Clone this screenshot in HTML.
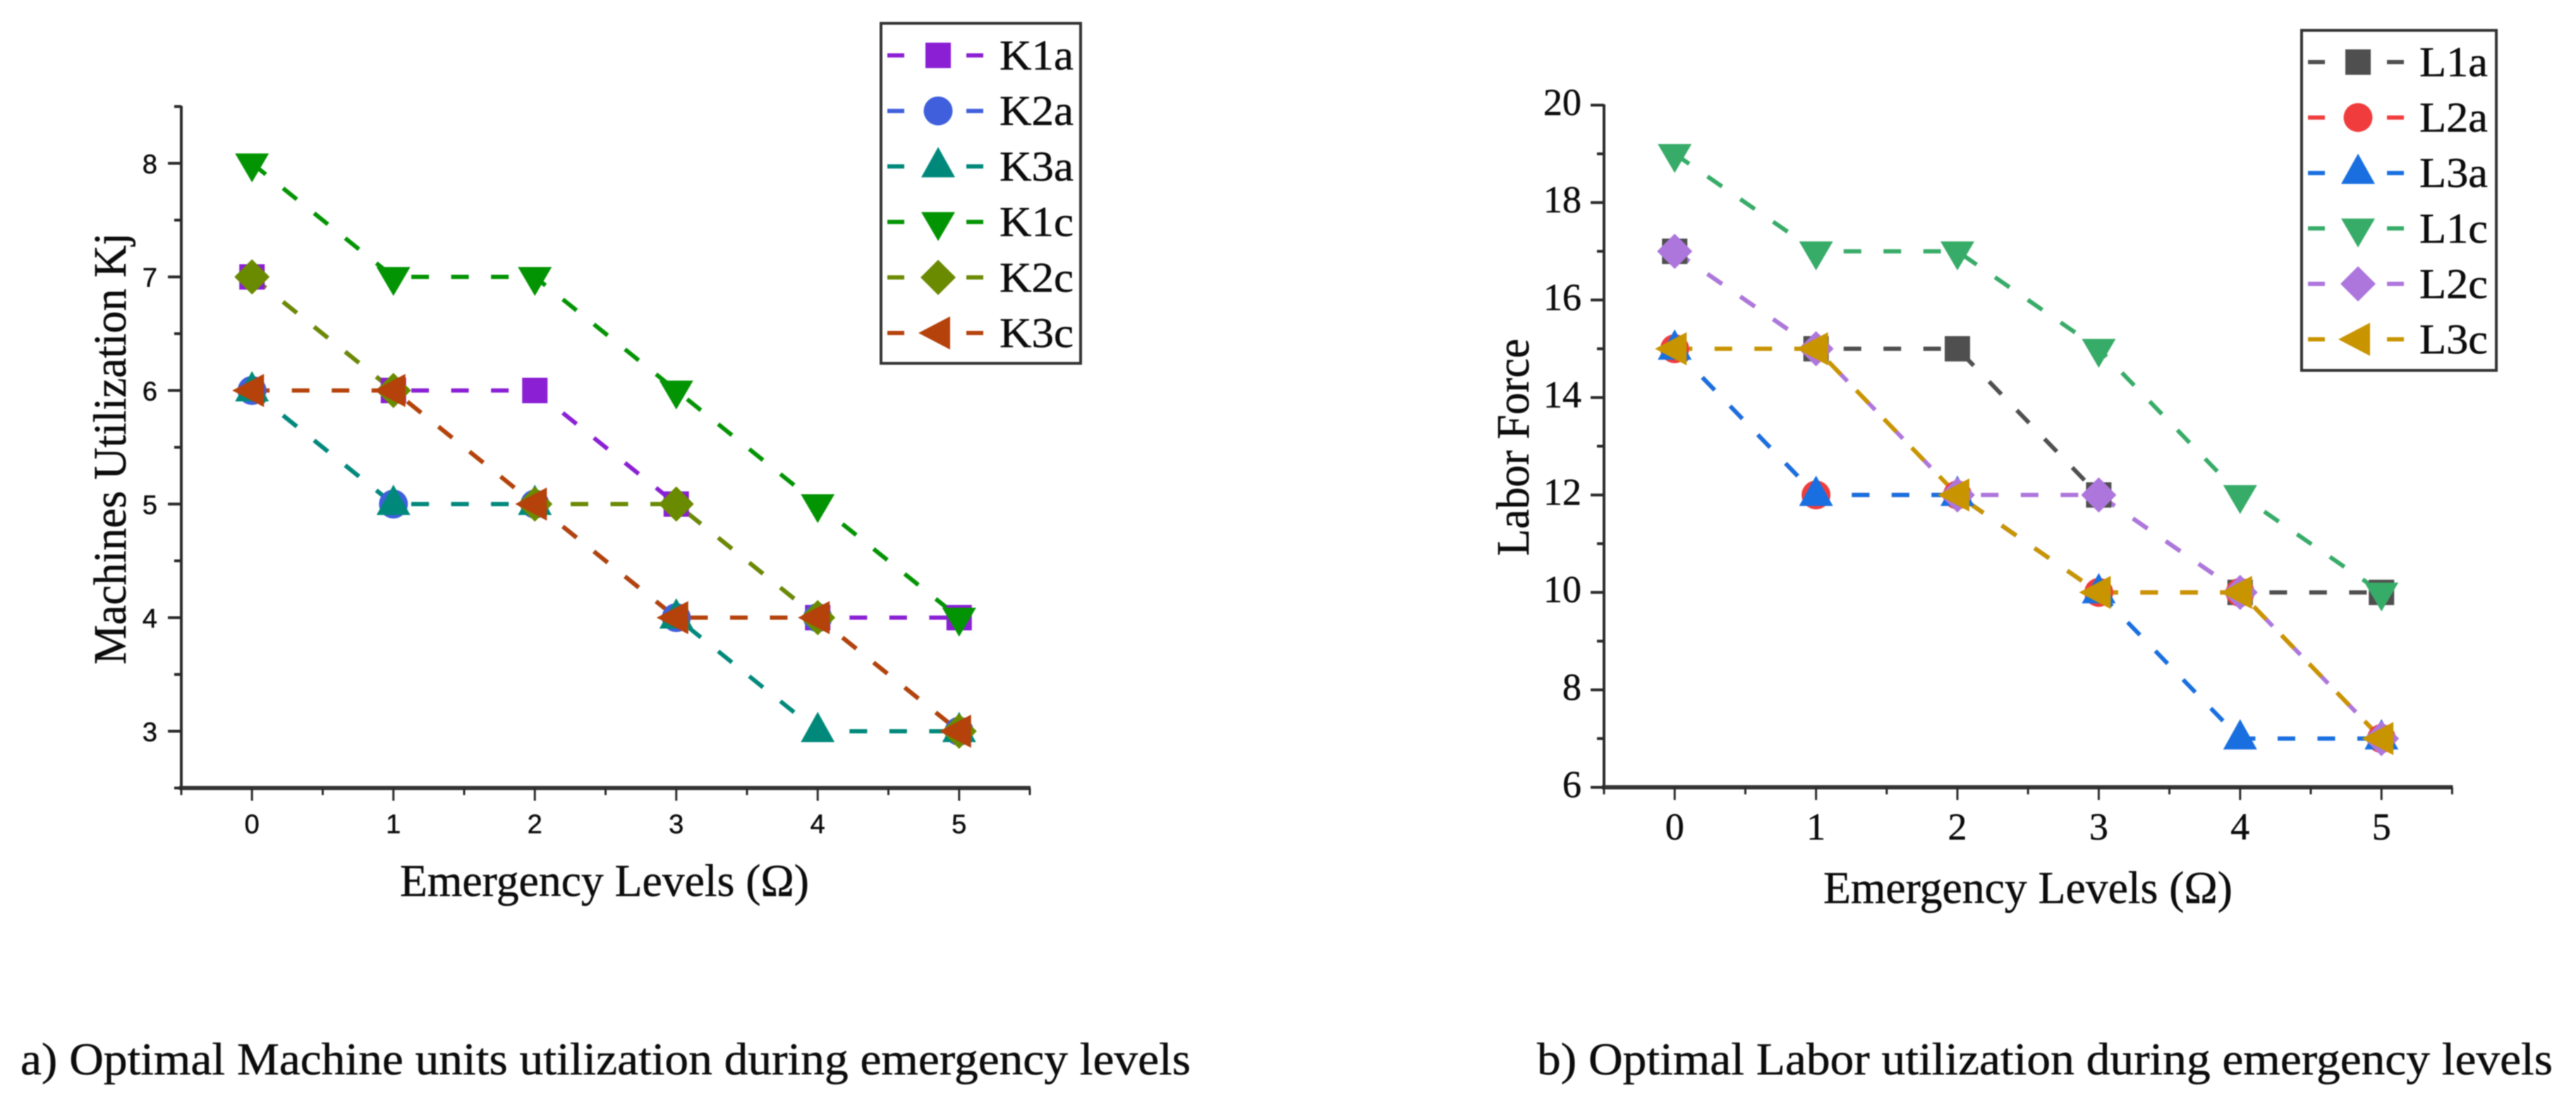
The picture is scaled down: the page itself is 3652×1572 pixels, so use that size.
<!DOCTYPE html>
<html lang="en">
<head>
<meta charset="utf-8">
<title>Optimal machine and labor utilization during emergency levels</title>
<style>
  html, body { margin: 0; padding: 0; background: #fff; }
  #figure { display: block; width: 3652px; height: 1572px; filter: blur(0.9px); }
  text { font-family: "Liberation Serif", serif; fill: #0c0c0c; stroke: #0c0c0c; stroke-width: 0.5px; }
  .sans { font-family: "Liberation Sans", sans-serif; }
</style>
</head>
<body>
<svg id="figure" xmlns="http://www.w3.org/2000/svg" width="3652" height="1572" viewBox="0 0 3652 1572">
  <rect x="0" y="0" width="3652" height="1572" fill="#fff"/>
  <g id="chartA"></g>
  <g id="chartB"></g>
  <text transform="translate(178 942) rotate(-90)" font-size="66" textLength="612" lengthAdjust="spacingAndGlyphs">Machines Utilization Kj</text>
  <text x="567" y="1270" font-size="65" textLength="580" lengthAdjust="spacingAndGlyphs">Emergency Levels (Ω)</text>
  <text x="29" y="1523" font-size="65" textLength="1659" lengthAdjust="spacingAndGlyphs">a) Optimal Machine units utilization during emergency levels</text>
  <text transform="translate(2167 788) rotate(-90)" font-size="66" textLength="308" lengthAdjust="spacingAndGlyphs">Labor Force</text>
  <text x="2585" y="1280" font-size="65" textLength="580" lengthAdjust="spacingAndGlyphs">Emergency Levels (Ω)</text>
  <text x="2179" y="1523" font-size="65" textLength="1440" lengthAdjust="spacingAndGlyphs">b) Optimal Labor utilization during emergency levels</text>
</svg>
<script>
// Shared category axis
const emergencyLevels = [0, 1, 2, 3, 4, 5];

// Chart a: machines
const machineNames = ["K1a", "K2a", "K3a", "K1c", "K2c", "K3c"];
const machineColors = ["#8a1fd4", "#3f5fdc", "#00897b", "#039403", "#6a8a00", "#b5410b"];
const K1a = [7, 6, 6, 5, 4, 4];
const K2a = [6, 5, 5, 4, 4, 3];
const K3a = [6, 5, 5, 4, 3, 3];
const K1c = [8, 7, 7, 6, 5, 4];
const K2c = [7, 6, 5, 5, 4, 3];
const K3c = [6, 6, 5, 4, 4, 3];
const machineYTicks = [3, 4, 5, 6, 7, 8];
const machineYMinorTicks = [2.5, 3.5, 4.5, 5.5, 6.5, 7.5, 8.5];

// Chart b: labor
const laborNames = ["L1a", "L2a", "L3a", "L1c", "L2c", "L3c"];
const laborColors = ["#4f4f4f", "#f03c3c", "#196fe0", "#37ab68", "#ad76dc", "#c89400"];
const L1a = [17, 15, 15, 12, 10, 10];
const L2a = [15, 12, 12, 10, 10, 7];
const L3a = [15, 12, 12, 10, 7, 7];
const L1c = [19, 17, 17, 15, 12, 10];
const L2c = [17, 15, 12, 12, 10, 7];
const L3c = [15, 15, 12, 10, 10, 7];
const laborYTicks = [6, 8, 10, 12, 14, 16, 18, 20];
const laborYMinorTicks = [7, 9, 11, 13, 15, 17, 19];

const xMinorTicks = [-0.5, 0.5, 1.5, 2.5, 3.5, 4.5, 5.5];
const markerShapes = ["square", "circle", "up", "down", "diamond", "left"];

const NS = "http://www.w3.org/2000/svg";
function make(tag, attrs, parent) {
  const node = document.createElementNS(NS, tag);
  for (const key in attrs) node.setAttribute(key, attrs[key]);
  parent.appendChild(node);
  return node;
}

function drawMarker(parent, shape, cx, cy, color, label) {
  let mark;
  if (shape === "square") {
    mark = make("rect", { x: cx - 18, y: cy - 18, width: 36, height: 36, fill: color }, parent);
  } else if (shape === "circle") {
    mark = make("ellipse", { cx: cx, cy: cy, rx: 20.5, ry: 20.5, fill: color }, parent);
  } else {
    let pts;
    if (shape === "up") pts = [[cx, cy - 27.5], [cx + 24, cy + 15.5], [cx - 24, cy + 15.5]];
    if (shape === "down") pts = [[cx - 24, cy - 14], [cx + 24, cy - 14], [cx, cy + 27]];
    if (shape === "diamond") pts = [[cx, cy - 25], [cx + 25, cy], [cx, cy + 25], [cx - 25, cy]];
    if (shape === "left") pts = [[cx - 28, cy], [cx + 17, cy - 23.5], [cx + 17, cy + 23.5]];
    mark = make("polygon", { points: pts.map(p => p.join(",")).join(" "), fill: color }, parent);
  }
  
  
  return mark;
}

function drawChart(root, cfg) {
  const xPos = v => cfg.x0 + (v + 0.5) * cfg.xUnit;
  const yPos = v => cfg.yBase - (v - cfg.yMin) * cfg.yUnit;
  const axisColor = "#2a2a2a";
  const xEnd = xPos(5.5);
  const yTop = yPos(cfg.yMax);

  const yAxis = make("line", { x1: cfg.x0, y1: yTop - 1, x2: cfg.x0, y2: cfg.yBase + 2, stroke: axisColor, "stroke-width": 4 }, root);
  
  

  const xAxis = make("line", { x1: cfg.x0 - 3, y1: cfg.yBase, x2: xEnd + 1, y2: cfg.yBase, stroke: "#333", "stroke-width": 6 }, root);
  
  

  cfg.yTicks.forEach(v => {
    const y = yPos(v);
    const tick = make("line", { x1: cfg.x0 - 19, y1: y, x2: cfg.x0, y2: y, stroke: axisColor, "stroke-width": 4 }, root);
    
    
    const label = make("text", { x: cfg.x0 - cfg.yLabelGap, y: y + cfg.yLabelDy, "text-anchor": "end", "font-size": cfg.tickFont, class: cfg.tickClass }, root);
    label.textContent = String(v);
    
    
  });
  cfg.yMinor.forEach(v => {
    const y = yPos(v);
    const tick = make("line", { x1: cfg.x0 - 10, y1: y, x2: cfg.x0, y2: y, stroke: axisColor, "stroke-width": 4 }, root);
    
    
  });
  emergencyLevels.forEach(v => {
    const x = xPos(v);
    const tick = make("line", { x1: x, y1: cfg.yBase, x2: x, y2: cfg.yBase + 18, stroke: axisColor, "stroke-width": 3 }, root);
    
    
    const label = make("text", { x: x, y: cfg.xLabelY, "text-anchor": "middle", "font-size": cfg.tickFont, class: cfg.tickClass }, root);
    label.textContent = String(v);
    
    
  });
  xMinorTicks.forEach(v => {
    const x = xPos(v);
    const tick = make("line", { x1: x, y1: cfg.yBase, x2: x, y2: cfg.yBase + 10, stroke: axisColor, "stroke-width": 3 }, root);
    
    
  });

  cfg.series.forEach((values, i) => {
    const group = make("g", {}, root);
    
    
    const pts = values.map((v, k) => xPos(emergencyLevels[k]) + "," + yPos(v)).join(" ");
    const line = make("polyline", { points: pts, fill: "none", stroke: cfg.colors[i], "stroke-width": 6, "stroke-dasharray": "25 31.5" }, group);
    
    
  });
  cfg.series.forEach((values, i) => {
    values.forEach((v, k) => {
      drawMarker(root, markerShapes[i], xPos(emergencyLevels[k]), yPos(v), cfg.colors[i], 'point-' + cfg.names[i]);
    });
  });

  const leg = cfg.legend;
  const legend = make("g", {}, root);
  
  
  const frame = make("rect", { x: leg.x, y: leg.y, width: leg.w, height: leg.h, fill: "#fff", stroke: "#333", "stroke-width": 4 }, legend);
  
  
  cfg.names.forEach((name, i) => {
    const y = leg.rowY + i * leg.rowStep;
    const entry = make("g", {}, legend);
    
    
    [[leg.dashA, leg.dashA + 24], [leg.dashB, leg.dashB + 24]].forEach(d => {
      const dash = make("line", { x1: d[0], y1: y, x2: d[1], y2: y, stroke: cfg.colors[i], "stroke-width": 6 }, entry);
      
      
    });
    drawMarker(entry, markerShapes[i], leg.sym, y, cfg.colors[i], 'legend-marker-' + name);
    const label = make("text", { x: leg.textX, y: y + leg.textDy, "font-size": 60, textLength: leg.textW, lengthAdjust: "spacingAndGlyphs" }, entry);
    label.textContent = name;
    
    
  });
}

drawChart(document.getElementById("chartA"), {
  x0: 257, xUnit: 200.5, yBase: 1117, yMin: 2.5, yMax: 8.5, yUnit: 161,
  yTicks: machineYTicks, yMinor: machineYMinorTicks,
  tickFont: 38, tickClass: "sans", yLabelGap: 34, yLabelDy: 14, xLabelY: 1181,
  names: machineNames, colors: machineColors,
  series: [K1a, K2a, K3a, K1c, K2c, K3c],
  legend: { x: 1249, y: 33, w: 283, h: 482, rowY: 78.5, rowStep: 78.7, dashA: 1258, dashB: 1370, sym: 1330, textX: 1417, textW: 105, textDy: 20 }
});

drawChart(document.getElementById("chartB"), {
  x0: 2274, xUnit: 200.4, yBase: 1116, yMin: 6, yMax: 20, yUnit: 69.07,
  yTicks: laborYTicks, yMinor: laborYMinorTicks,
  tickFont: 54, tickClass: "", yLabelGap: 32, yLabelDy: 14, xLabelY: 1190,
  names: laborNames, colors: laborColors,
  series: [L1a, L2a, L3a, L1c, L2c, L3c],
  legend: { x: 3263, y: 43, w: 276, h: 482, rowY: 88, rowStep: 78.6, dashA: 3272, dashB: 3384, sym: 3343, textX: 3430, textW: 97, textDy: 20 }
});
</script>
</body>
</html>
